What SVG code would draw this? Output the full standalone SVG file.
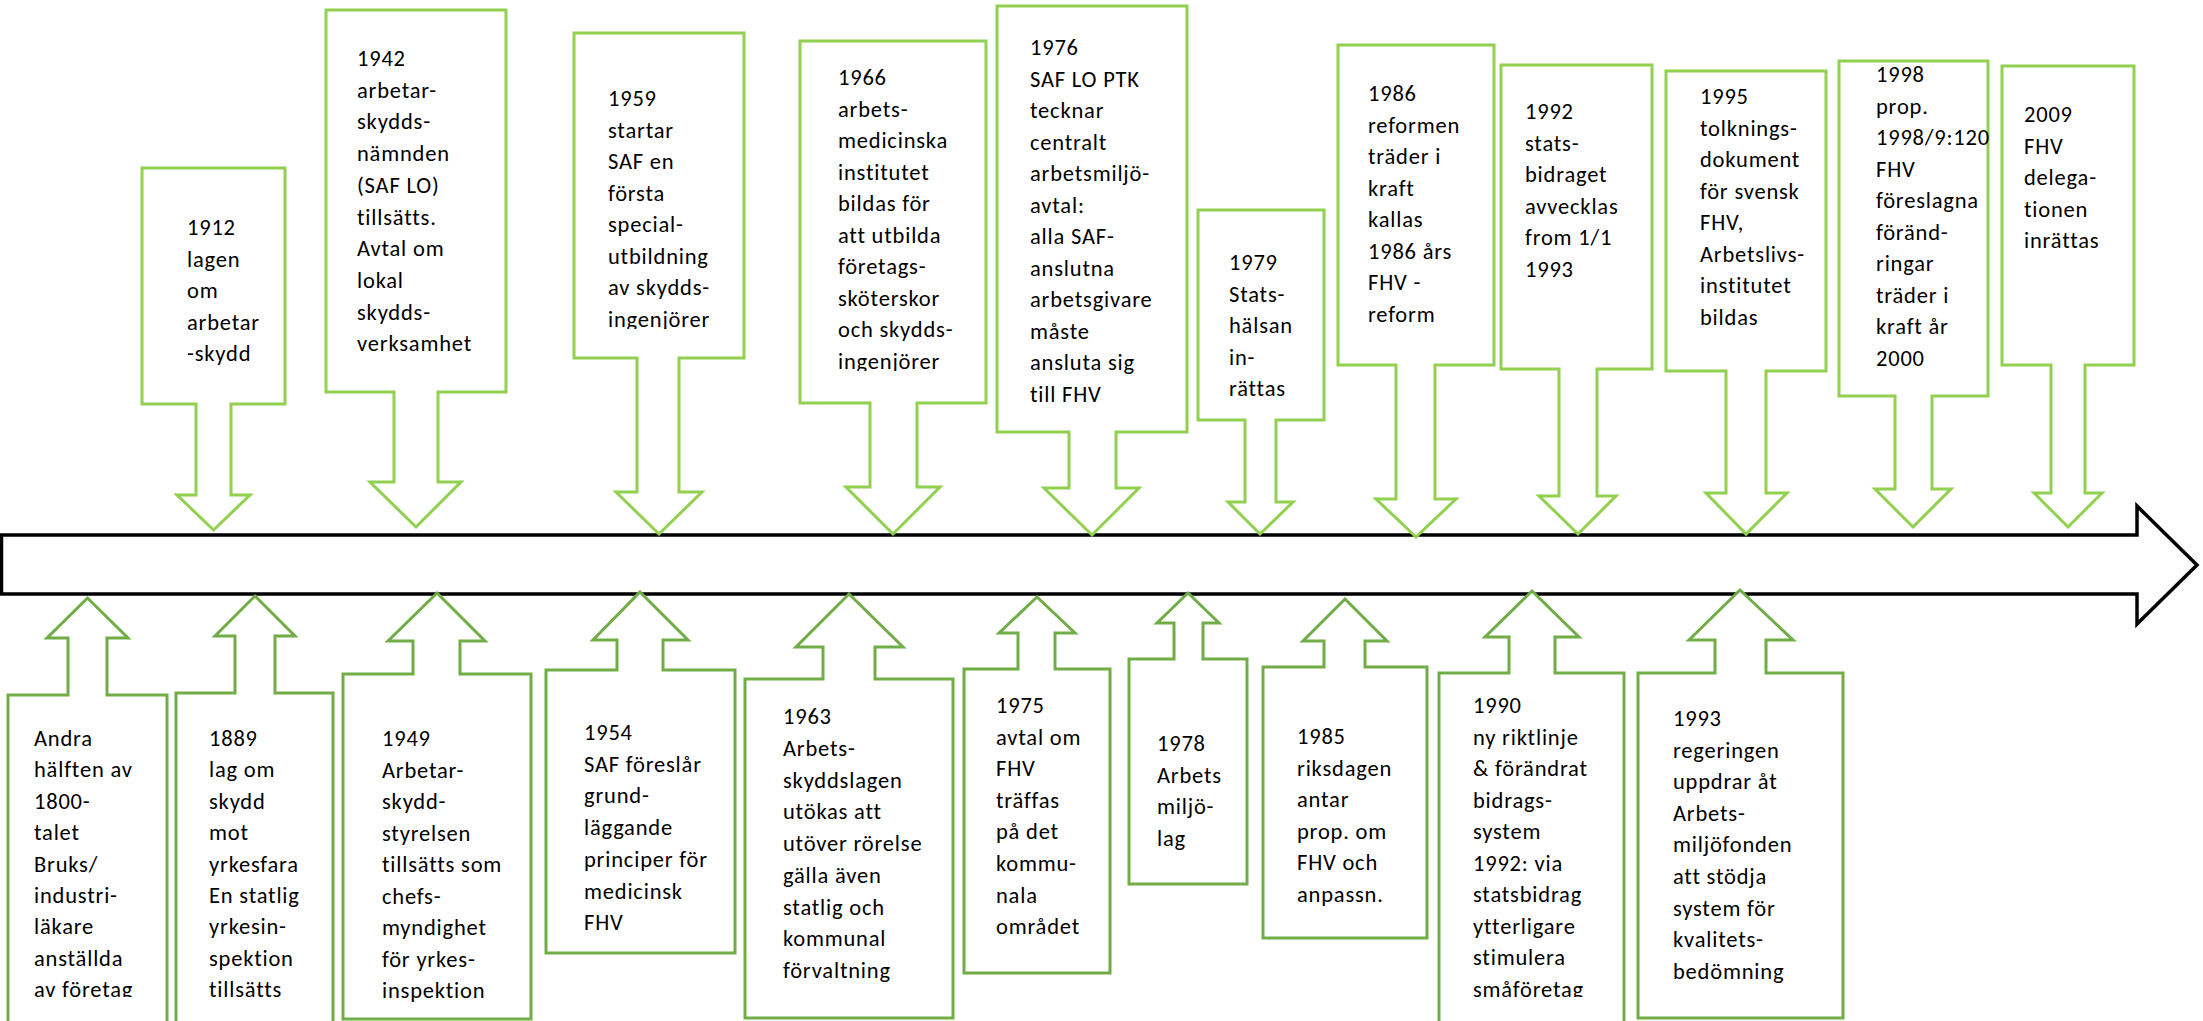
<svg xmlns="http://www.w3.org/2000/svg" width="2203" height="1021" viewBox="0 0 2203 1021">
<style>
.bg{fill:#ffffff}
.dn{fill:#ffffff;stroke:#92D050;stroke-width:3;stroke-linejoin:miter}
.up{fill:#ffffff;stroke:#70AD47;stroke-width:3;stroke-linejoin:miter}
.tl{fill:#ffffff;stroke:#000000;stroke-width:3.5;stroke-linejoin:miter}
.t{font-family:Carlito,Lato,"Liberation Sans",sans-serif;font-size:22.5px;letter-spacing:0.8px;fill:#000000}
</style>
<defs>
<clipPath id="c1959"><rect x="570" y="30" width="180" height="299"/></clipPath>
<clipPath id="c1966"><rect x="795" y="38" width="195" height="333"/></clipPath>
<clipPath id="cbot"><rect x="0" y="600" width="2203" height="397"/></clipPath>
</defs>
<rect class="bg" x="0" y="0" width="2203" height="1021"/>

<g id="timeline">
<path class="tl" d="M1.5,535 H2137 V506 L2197,565 L2137,624 V594 H1.5 Z"/>
</g>

<g id="e1912">
<path class="dn" d="M142,168 H285 V404 H231 V495 H250 L213.5,530 L177,495 H196 V404 H142 Z"/>
<text class="t" x="187" y="235"><tspan x="187">1912</tspan><tspan x="187" dy="31.5">lagen</tspan><tspan x="187" dy="31.5">om</tspan><tspan x="187" dy="31.5">arbetar</tspan><tspan x="187" dy="31.5">-skydd</tspan></text>
</g>
<g id="e1942">
<path class="dn" d="M326,10 H506 V392 H438 V482 H461 L416,527 L370,482 H394 V392 H326 Z"/>
<text class="t" x="357" y="66"><tspan x="357">1942</tspan><tspan x="357" dy="31.7">arbetar-</tspan><tspan x="357" dy="31.7">skydds-</tspan><tspan x="357" dy="31.7">nämnden</tspan><tspan x="357" dy="31.7">(SAF LO)</tspan><tspan x="357" dy="31.7">tillsätts.</tspan><tspan x="357" dy="31.7">Avtal om</tspan><tspan x="357" dy="31.7">lokal</tspan><tspan x="357" dy="31.7">skydds-</tspan><tspan x="357" dy="31.7">verksamhet</tspan></text>
</g>
<g id="e1959">
<path class="dn" d="M574,33 H744 V358 H679 V492 H702 L659,534 L616,492 H637 V358 H574 Z"/>
<text class="t" x="608" y="106" clip-path="url(#c1959)"><tspan x="608">1959</tspan><tspan x="608" dy="31.5">startar</tspan><tspan x="608" dy="31.5">SAF en</tspan><tspan x="608" dy="31.5">första</tspan><tspan x="608" dy="31.5">special-</tspan><tspan x="608" dy="31.5">utbildning</tspan><tspan x="608" dy="31.5">av skydds-</tspan><tspan x="608" dy="31.5">ingenjörer</tspan></text>
</g>
<g id="e1966">
<path class="dn" d="M800,41 H986 V403 H917 V487 H940 L893,534 L846,487 H870 V403 H800 Z"/>
<text class="t" x="838" y="85" clip-path="url(#c1966)"><tspan x="838">1966</tspan><tspan x="838" dy="31.5">arbets-</tspan><tspan x="838" dy="31.5">medicinska</tspan><tspan x="838" dy="31.5">institutet</tspan><tspan x="838" dy="31.5">bildas för</tspan><tspan x="838" dy="31.5">att utbilda</tspan><tspan x="838" dy="31.5">företags-</tspan><tspan x="838" dy="31.5">sköterskor</tspan><tspan x="838" dy="31.5">och skydds-</tspan><tspan x="838" dy="31.5">ingenjörer</tspan></text>
</g>
<g id="e1976">
<path class="dn" d="M997,6 H1187 V432 H1116 V488 H1139 L1092,535 L1044,488 H1069 V432 H997 Z"/>
<text class="t" x="1030" y="55"><tspan x="1030">1976</tspan><tspan x="1030" dy="31.5">SAF LO PTK</tspan><tspan x="1030" dy="31.5">tecknar</tspan><tspan x="1030" dy="31.5">centralt</tspan><tspan x="1030" dy="31.5">arbetsmiljö-</tspan><tspan x="1030" dy="31.5">avtal:</tspan><tspan x="1030" dy="31.5">alla SAF-</tspan><tspan x="1030" dy="31.5">anslutna</tspan><tspan x="1030" dy="31.5">arbetsgivare</tspan><tspan x="1030" dy="31.5">måste</tspan><tspan x="1030" dy="31.5">ansluta sig</tspan><tspan x="1030" dy="31.5">till FHV</tspan></text>
</g>
<g id="e1979">
<path class="dn" d="M1198,210 H1324 V420 H1276 V502 H1293 L1260,534 L1228,502 H1245 V420 H1198 Z"/>
<text class="t" x="1229" y="270"><tspan x="1229">1979</tspan><tspan x="1229" dy="31.5">Stats-</tspan><tspan x="1229" dy="31.5">hälsan</tspan><tspan x="1229" dy="31.5">in-</tspan><tspan x="1229" dy="31.5">rättas</tspan></text>
</g>
<g id="e1986">
<path class="dn" d="M1338,45 H1494 V365 H1435 V499 H1456 L1416,537 L1376,499 H1396 V365 H1338 Z"/>
<text class="t" x="1368" y="101"><tspan x="1368">1986</tspan><tspan x="1368" dy="31.5">reformen</tspan><tspan x="1368" dy="31.5">träder i</tspan><tspan x="1368" dy="31.5">kraft</tspan><tspan x="1368" dy="31.5">kallas</tspan><tspan x="1368" dy="31.5">1986 års</tspan><tspan x="1368" dy="31.5">FHV -</tspan><tspan x="1368" dy="31.5">reform</tspan></text>
</g>
<g id="e1992">
<path class="dn" d="M1501,65 H1652 V369 H1597 V496 H1616 L1578,534 L1539,496 H1559 V369 H1501 Z"/>
<text class="t" x="1525" y="119"><tspan x="1525">1992</tspan><tspan x="1525" dy="31.5">stats-</tspan><tspan x="1525" dy="31.5">bidraget</tspan><tspan x="1525" dy="31.5">avvecklas</tspan><tspan x="1525" dy="31.5">from 1/1</tspan><tspan x="1525" dy="31.5">1993</tspan></text>
</g>
<g id="e1995">
<path class="dn" d="M1666,71 H1826 V371 H1766 V493 H1787 L1746,534 L1706,493 H1726 V371 H1666 Z"/>
<text class="t" x="1700" y="104"><tspan x="1700">1995</tspan><tspan x="1700" dy="31.5">tolknings-</tspan><tspan x="1700" dy="31.5">dokument</tspan><tspan x="1700" dy="31.5">för svensk</tspan><tspan x="1700" dy="31.5">FHV,</tspan><tspan x="1700" dy="31.5">Arbetslivs-</tspan><tspan x="1700" dy="31.5">institutet</tspan><tspan x="1700" dy="31.5">bildas</tspan></text>
</g>
<g id="e1998">
<path class="dn" d="M1839,61 H1988 V396 H1932 V489 H1951 L1913,527 L1875,489 H1895 V396 H1839 Z"/>
<text class="t" x="1876" y="82"><tspan x="1876">1998</tspan><tspan x="1876" dy="31.5">prop.</tspan><tspan x="1876" dy="31.5">1998/9:120</tspan><tspan x="1876" dy="31.5">FHV</tspan><tspan x="1876" dy="31.5">föreslagna</tspan><tspan x="1876" dy="31.5">föränd-</tspan><tspan x="1876" dy="31.5">ringar</tspan><tspan x="1876" dy="31.5">träder i</tspan><tspan x="1876" dy="31.5">kraft år</tspan><tspan x="1876" dy="31.5">2000</tspan></text>
</g>
<g id="e2009">
<path class="dn" d="M2002,66 H2134 V365 H2085 V493 H2102 L2068,527 L2034,493 H2051 V365 H2002 Z"/>
<text class="t" x="2024" y="122"><tspan x="2024">2009</tspan><tspan x="2024" dy="31.5">FHV</tspan><tspan x="2024" dy="31.5">delega-</tspan><tspan x="2024" dy="31.5">tionen</tspan><tspan x="2024" dy="31.5">inrättas</tspan></text>
</g>

<g id="e1800">
<path class="up" d="M87.5,598 L128,638 H107 V695 H167 V1030 H8 V695 H68 V638 H47 Z"/>
<text class="t" x="34" y="746" clip-path="url(#cbot)"><tspan x="34">Andra</tspan><tspan x="34" dy="31.4">hälften av</tspan><tspan x="34" dy="31.4">1800-</tspan><tspan x="34" dy="31.4">talet</tspan><tspan x="34" dy="31.4">Bruks/</tspan><tspan x="34" dy="31.4">industri-</tspan><tspan x="34" dy="31.4">läkare</tspan><tspan x="34" dy="31.4">anställda</tspan><tspan x="34" dy="31.4">av företag</tspan></text>
</g>
<g id="e1889">
<path class="up" d="M255,596 L295,636 H275 V693 H333 V1030 H176 V693 H235 V636 H215 Z"/>
<text class="t" x="209" y="746" clip-path="url(#cbot)"><tspan x="209">1889</tspan><tspan x="209" dy="31.4">lag om</tspan><tspan x="209" dy="31.4">skydd</tspan><tspan x="209" dy="31.4">mot</tspan><tspan x="209" dy="31.4">yrkesfara</tspan><tspan x="209" dy="31.4">En statlig</tspan><tspan x="209" dy="31.4">yrkesin-</tspan><tspan x="209" dy="31.4">spektion</tspan><tspan x="209" dy="31.4">tillsätts</tspan></text>
</g>
<g id="e1949">
<path class="up" d="M437,593 L485,641 H460 V674 H531 V1019 H343 V674 H413 V641 H388 Z"/>
<text class="t" x="382" y="746"><tspan x="382">1949</tspan><tspan x="382" dy="31.5">Arbetar-</tspan><tspan x="382" dy="31.5">skydd-</tspan><tspan x="382" dy="31.5">styrelsen</tspan><tspan x="382" dy="31.5">tillsätts som</tspan><tspan x="382" dy="31.5">chefs-</tspan><tspan x="382" dy="31.5">myndighet</tspan><tspan x="382" dy="31.5">för yrkes-</tspan><tspan x="382" dy="31.5">inspektion</tspan></text>
</g>
<g id="e1954">
<path class="up" d="M640,592 L688,640 H663 V670 H735 V953 H546 V670 H617 V640 H593 Z"/>
<text class="t" x="584" y="740"><tspan x="584">1954</tspan><tspan x="584" dy="31.7">SAF föreslår</tspan><tspan x="584" dy="31.7">grund-</tspan><tspan x="584" dy="31.7">läggande</tspan><tspan x="584" dy="31.7">principer för</tspan><tspan x="584" dy="31.7">medicinsk</tspan><tspan x="584" dy="31.7">FHV</tspan></text>
</g>
<g id="e1963">
<path class="up" d="M849,594 L903,647 H875 V679 H953 V1018 H745 V679 H823 V647 H796 Z"/>
<text class="t" x="783" y="724"><tspan x="783">1963</tspan><tspan x="783" dy="31.75">Arbets-</tspan><tspan x="783" dy="31.75">skyddslagen</tspan><tspan x="783" dy="31.75">utökas att</tspan><tspan x="783" dy="31.75">utöver rörelse</tspan><tspan x="783" dy="31.75">gälla även</tspan><tspan x="783" dy="31.75">statlig och</tspan><tspan x="783" dy="31.75">kommunal</tspan><tspan x="783" dy="31.75">förvaltning</tspan></text>
</g>
<g id="e1975">
<path class="up" d="M1037,597 L1075,633 H1055 V669 H1110 V973 H964 V669 H1018 V633 H999 Z"/>
<text class="t" x="996" y="713"><tspan x="996">1975</tspan><tspan x="996" dy="31.6">avtal om</tspan><tspan x="996" dy="31.6">FHV</tspan><tspan x="996" dy="31.6">träffas</tspan><tspan x="996" dy="31.6">på det</tspan><tspan x="996" dy="31.6">kommu-</tspan><tspan x="996" dy="31.6">nala</tspan><tspan x="996" dy="31.6">området</tspan></text>
</g>
<g id="e1978">
<path class="up" d="M1188,593 L1219,623 H1203 V659 H1247 V884 H1129 V659 H1174 V623 H1157 Z"/>
<text class="t" x="1157" y="751"><tspan x="1157">1978</tspan><tspan x="1157" dy="31.5">Arbets</tspan><tspan x="1157" dy="31.5">miljö-</tspan><tspan x="1157" dy="31.5">lag</tspan></text>
</g>
<g id="e1985">
<path class="up" d="M1345,599 L1387,641 H1365 V667 H1427 V938 H1263 V667 H1324 V641 H1303 Z"/>
<text class="t" x="1297" y="744"><tspan x="1297">1985</tspan><tspan x="1297" dy="31.5">riksdagen</tspan><tspan x="1297" dy="31.5">antar</tspan><tspan x="1297" dy="31.5">prop. om</tspan><tspan x="1297" dy="31.5">FHV och</tspan><tspan x="1297" dy="31.5">anpassn.</tspan></text>
</g>
<g id="e1990">
<path class="up" d="M1532,591 L1579,637 H1555 V673 H1624 V1030 H1439 V673 H1509 V637 H1485 Z"/>
<text class="t" x="1473" y="713" clip-path="url(#cbot)"><tspan x="1473">1990</tspan><tspan x="1473" dy="31.5">ny riktlinje</tspan><tspan x="1473" dy="31.5">&amp; förändrat</tspan><tspan x="1473" dy="31.5">bidrags-</tspan><tspan x="1473" dy="31.5">system</tspan><tspan x="1473" dy="31.5">1992: via</tspan><tspan x="1473" dy="31.5">statsbidrag</tspan><tspan x="1473" dy="31.5">ytterligare</tspan><tspan x="1473" dy="31.5">stimulera</tspan><tspan x="1473" dy="31.5">småföretag</tspan></text>
</g>
<g id="e1993">
<path class="up" d="M1740,590 L1793,640 H1766 V673 H1843 V1018 H1638 V673 H1715 V640 H1689 Z"/>
<text class="t" x="1673" y="726"><tspan x="1673">1993</tspan><tspan x="1673" dy="31.6">regeringen</tspan><tspan x="1673" dy="31.6">uppdrar åt</tspan><tspan x="1673" dy="31.6">Arbets-</tspan><tspan x="1673" dy="31.6">miljöfonden</tspan><tspan x="1673" dy="31.6">att stödja</tspan><tspan x="1673" dy="31.6">system för</tspan><tspan x="1673" dy="31.6">kvalitets-</tspan><tspan x="1673" dy="31.6">bedömning</tspan></text>
</g>
</svg>
